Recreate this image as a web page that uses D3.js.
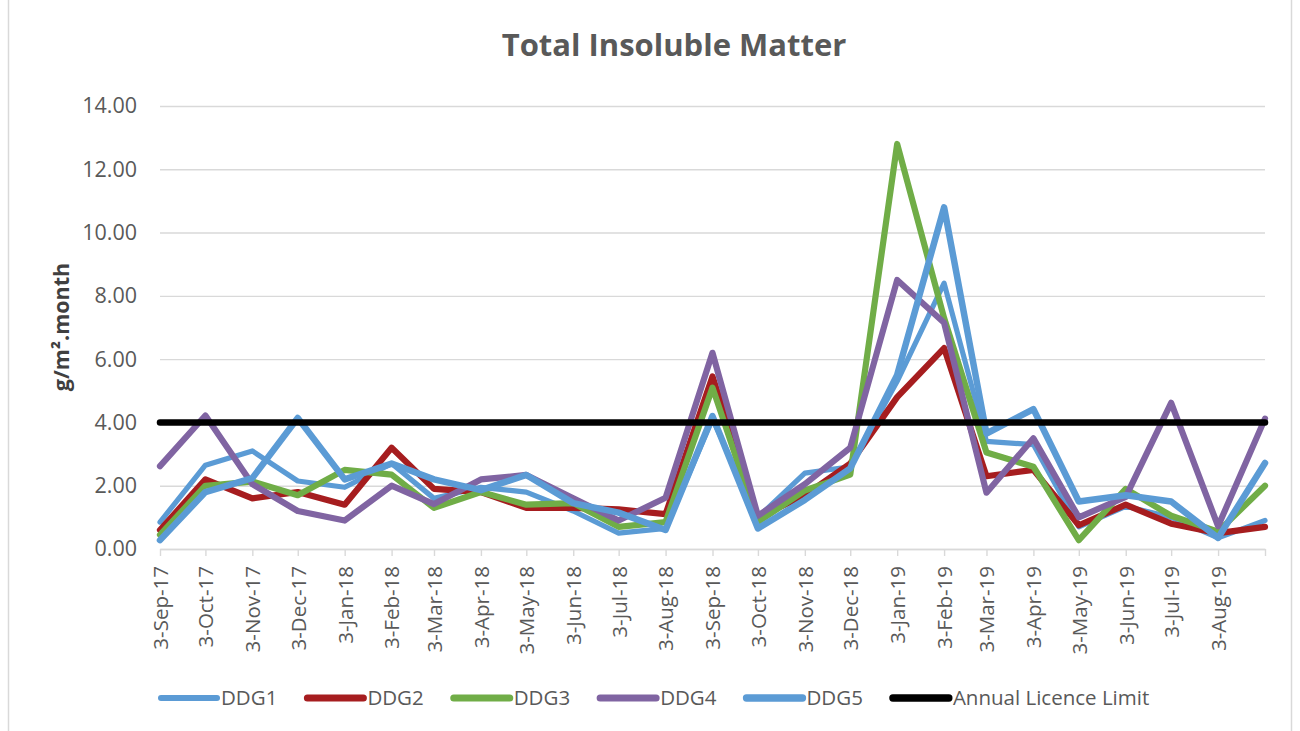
<!DOCTYPE html>
<html>
<head>
<meta charset="utf-8">
<script src="https://cdn.jsdelivr.net/npm/d3@7"></script>
<style>
  body { margin: 0; background: #fff; }
  svg { display: block; font-family: "Open Sans", sans-serif; }
</style>
</head>
<body>
<svg id="chart" width="1300" height="731"></svg>
<script>
// monthly sampling dates (3rd of each month)
const dates = [
  "2017-09-03", "2017-10-03", "2017-11-03", "2017-12-03", "2018-01-03",
  "2018-02-03", "2018-03-03", "2018-04-03", "2018-05-03", "2018-06-03",
  "2018-07-03", "2018-08-03", "2018-09-03", "2018-10-03", "2018-11-03",
  "2018-12-03", "2019-01-03", "2019-02-03", "2019-03-03", "2019-04-03",
  "2019-05-03", "2019-06-03", "2019-07-03", "2019-08-03", "2019-09-03"
];

const ddg1 = [0.85, 2.65, 3.10, 2.15, 1.95, 2.70, 1.60, 1.95, 1.80, 1.20, 0.50, 0.65, 4.10,
              1.00, 2.40, 2.60, 5.30, 8.40, 3.40, 3.30, 0.70, 1.35, 1.00, 0.35, 0.90];
const ddg2 = [0.60, 2.20, 1.60, 1.80, 1.40, 3.20, 1.90, 1.80, 1.30, 1.30, 1.25, 1.10, 5.45,
              1.00, 1.70, 2.70, 4.80, 6.35, 2.30, 2.50, 0.75, 1.40, 0.80, 0.50, 0.70];
const ddg3 = [0.45, 2.00, 2.13, 1.70, 2.50, 2.35, 1.30, 1.80, 1.40, 1.45, 0.70, 0.85, 5.10,
              0.85, 1.85, 2.35, 12.80, 7.30, 3.05, 2.60, 0.28, 1.90, 1.05, 0.55, 2.00];
const ddg4 = [2.62, 4.22, 2.05, 1.20, 0.90, 2.00, 1.42, 2.20, 2.34, 1.60, 0.90, 1.62, 6.20,
              1.05, 2.05, 3.20, 8.50, 7.15, 1.78, 3.50, 1.00, 1.65, 4.62, 0.72, 4.12];
const ddg5 = [0.28, 1.80, 2.24, 4.14, 2.20, 2.70, 2.20, 1.86, 2.34, 1.45, 1.15, 0.60, 4.20,
              0.65, 1.55, 2.55, 5.50, 10.80, 3.65, 4.42, 1.50, 1.70, 1.50, 0.35, 2.72];
const licenceLimit = 4.0;

const yTicks = [0, 2, 4, 6, 8, 10, 12, 14];

const parseDate = d3.timeParse("%Y-%m-%d");
const fmtDate = d3.timeFormat("%-d-%b-%y");
const xDates = dates.map(parseDate);

const series = [
  { name: "DDG1", values: ddg1, color: "#5B9BD5", width: 5.2 },
  { name: "DDG2", values: ddg2, color: "#A61D1F", width: 6.2 },
  { name: "DDG3", values: ddg3, color: "#70AD47", width: 6.2 },
  { name: "DDG4", values: ddg4, color: "#8064A2", width: 6.2 },
  { name: "DDG5", values: ddg5, color: "#5B9BD5", width: 6.5 },
  { name: "Annual Licence Limit", values: dates.map(() => licenceLimit), color: "#000000", width: 6.5 }
];

const svg = d3.select("#chart");

// chart border
svg.append("rect")
  .attr("x", 8.5).attr("y", -2)
  .attr("width", 1283).attr("height", 745)
  .attr("fill", "#fff")
  .attr("stroke", "#d9d9d9")
  .attr("stroke-width", 1.5);

const x = d3.scaleTime()
  .domain([xDates[0], xDates[xDates.length - 1]])
  .range([160, 1265]);

const y = d3.scaleLinear()
  .domain([0, 14])
  .range([549, 106]);

// gridlines + y labels
const yAxis = svg.append("g")
  .attr("transform", "translate(160,0)")
  .call(d3.axisLeft(y)
    .tickValues(yTicks)
    .tickSize(-1105)
    .tickPadding(23)
    .tickFormat(d3.format(".2f")));
yAxis.select(".domain").remove();
yAxis.selectAll(".tick line")
  .attr("stroke", "#d9d9d9")
  .attr("stroke-width", 1.4);
yAxis.selectAll(".tick text")
  .attr("fill", "#595959")
  .style("font-size", "21.5px")
  .style("font-family", "Open Sans");

// x axis
const xAxis = svg.append("g")
  .attr("transform", "translate(0,549)")
  .call(d3.axisBottom(x)
    .tickValues(xDates)
    .tickSize(7)
    .tickSizeOuter(0)
    .tickFormat((d, i) => i < xDates.length - 1 ? fmtDate(d) : ""));
xAxis.select(".domain")
  .attr("stroke", "#d9d9d9")
  .attr("stroke-width", 1.4);
xAxis.selectAll(".tick line")
  .attr("stroke", "#d9d9d9")
  .attr("stroke-width", 1.4);
xAxis.selectAll(".tick text")
  .attr("fill", "#595959")
  .style("font-size", "20.5px")
  .style("font-family", "Open Sans")
  .attr("text-anchor", "end")
  .attr("transform", "rotate(-90)")
  .attr("x", -17)
  .attr("y", 0)
  .attr("dy", "0.36em");

// lines
const line = d3.line()
  .x((d, i) => x(xDates[i]))
  .y(d => y(d));

svg.append("g")
  .selectAll("path")
  .data(series)
  .enter()
  .append("path")
  .attr("d", d => line(d.values))
  .attr("fill", "none")
  .attr("stroke", d => d.color)
  .attr("stroke-width", d => d.width)
  .attr("stroke-linejoin", "round")
  .attr("stroke-linecap", "round");

// title
svg.append("text")
  .attr("x", 674)
  .attr("y", 56)
  .attr("text-anchor", "middle")
  .attr("fill", "#595959")
  .style("font-size", "31px")
  .style("font-weight", "bold")
  .text("Total Insoluble Matter");

// y axis title
svg.append("text")
  .attr("transform", "translate(69,327) rotate(-90)")
  .attr("text-anchor", "middle")
  .attr("fill", "#404040")
  .style("font-size", "21.5px")
  .style("font-weight", "bold")
  .text("g/m².month");

// legend
const legend = svg.append("g").attr("transform", "translate(0,698)");
let lx = 161;
series.forEach(s => {
  legend.append("line")
    .attr("x1", lx).attr("x2", lx + 56)
    .attr("y1", 0).attr("y2", 0)
    .attr("stroke", s.color)
    .attr("stroke-width", s.width + 0.8)
    .attr("stroke-linecap", "round");
  const t = legend.append("text")
    .attr("x", lx + 60)
    .attr("y", 0)
    .attr("dy", "0.35em")
    .attr("fill", "#595959")
    .style("font-size", "20.5px")
    .text(s.name);
  lx += 60 + t.node().getComputedTextLength() + 30;
});
</script>
</body>
</html>
